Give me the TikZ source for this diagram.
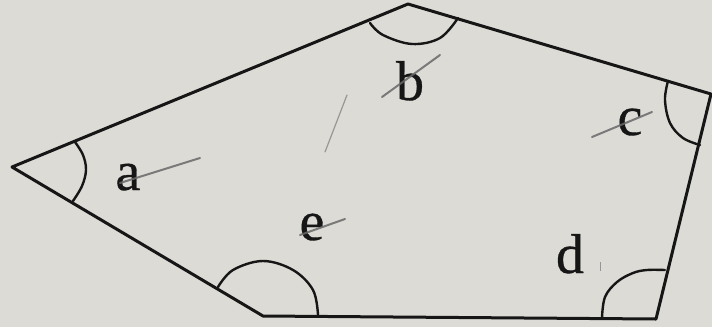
\documentclass[tikz,border=0pt]{standalone}
\usepackage{fontspec}
\setmainfont{Liberation Serif}[FakeBold=0.6]
\definecolor{paper}{RGB}{221,219,214}
\definecolor{ink}{RGB}{22,22,22}
\definecolor{pencil}{RGB}{105,105,105}
\tikzset{
  edge/.style={draw=ink, line width=3pt, line join=round, line cap=round},
  anglearc/.style={draw=ink, line width=2.4pt, line cap=round},
  strike/.style={draw=pencil, line width=2pt, line cap=round, opacity=0.85},
  lbl/.style={text=ink, font=\fontsize{56}{56}\selectfont, anchor=base, inner sep=0pt}
}
\begin{document}
\begin{tikzpicture}[x=1pt,y=-1pt]
\fill[paper] (0,0) rectangle (712,327);
\useasboundingbox (0,0) rectangle (712,327);
% vertices
\coordinate (A) at (12,167);
\coordinate (B) at (408,4);
\coordinate (C) at (711,94);
\coordinate (D) at (656,319);
\coordinate (E) at (263,316);
\draw[edge] (A) -- (B) -- (C) -- (D) -- (E) -- cycle;
% angle arcs
\draw[anglearc] plot[smooth, tension=0.6] coordinates {(75,142) (83,155) (86,170) (82,186) (73,201)};
\draw[anglearc] plot[smooth, tension=0.6] coordinates {(370,23) (383,35) (412,44) (440,38) (458,18)};
\draw[anglearc] plot[smooth, tension=0.6] coordinates {(668,81) (665,100) (670,123) (683,138) (700,145)};
\draw[anglearc] plot[smooth, tension=0.6] coordinates {(602,318) (605,297) (617,282) (633,273) (647,270) (665,270)};
\draw[anglearc] plot[smooth, tension=0.6] coordinates {(218,287) (233,270) (263,261) (293,270) (313,290) (318,315)};
% labels
\node[lbl] (la) at (128,190) {a};
\node[lbl] (lb) at (410,100) {b};
\node[lbl] (lc) at (630,135) {c};
\node[lbl] (ld) at (570,273) {d};
\node[lbl] (le) at (312,240) {e};
% pencil strikes
\draw[strike] (120,183) -- (200,158);
\draw[strike] (382,97) -- (440,55);
\draw[strike] (592,137) -- (652,112);
\draw[strike] (300,235) -- (345,219);
\draw[draw=pencil, line width=1.2pt, opacity=0.6, line cap=round] (325,152) -- (347,95);
\draw[draw=pencil, line width=0.8pt, opacity=0.6] (600,262) -- (600,271);
\end{tikzpicture}
\end{document}
